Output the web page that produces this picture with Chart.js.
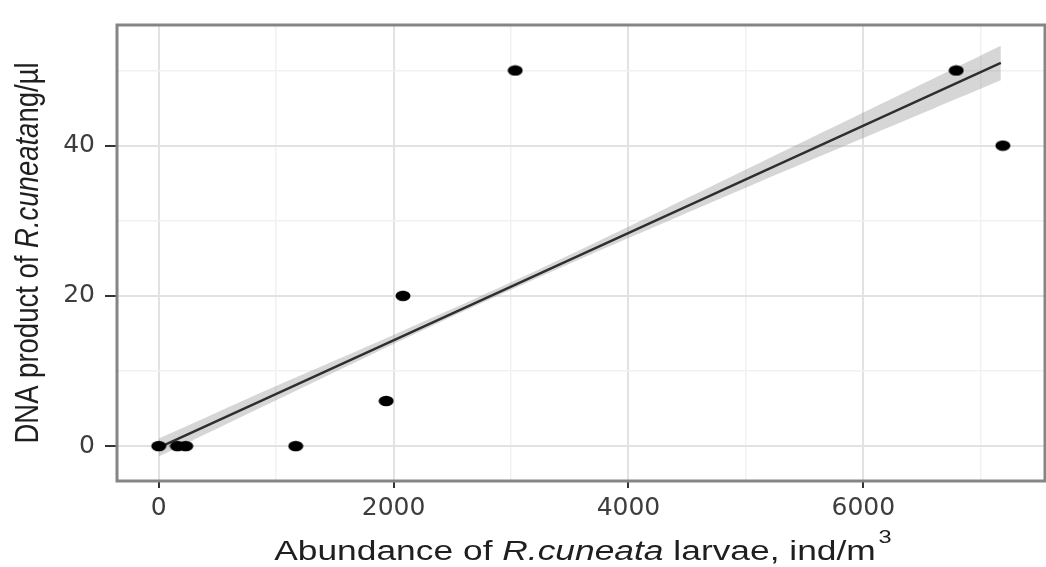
<!DOCTYPE html>
<html>
<head>
<meta charset="utf-8">
<script src="https://cdn.jsdelivr.net/npm/chart.js@4.4.1/dist/chart.umd.min.js"></script>
<style>
  html, body { margin: 0; padding: 0; background: #fff; overflow: hidden; }
  .wrap { position: relative; width: 1052px; height: 567px; }
</style>
</head>
<body>
<div class="wrap"><canvas id="dnaChart"></canvas></div>
<script>
    // observed samples: larvae abundance vs DNA product
    const abundance = [0, 160, 230, 1167, 1937, 2080, 3036, 6791, 7188];
    const dnaProduct = [0, 0, 0, 0, 6, 20, 50, 50, 40];

    // fitted line and its confidence band
    const fitX = [0, 7171];
    const fitY = [-0.2, 51.0];
    const bandX = [0, 1000, 2000, 3000, 4000, 5000, 6000, 7171];
    const bandLow = [-1.4, 6.1, 13.6, 20.8, 27.7, 34.4, 41.0, 48.7];
    const bandHigh = [1.0, 8.0, 14.8, 21.8, 29.2, 36.8, 44.4, 53.3];

    // grid / tick values
    const xGrid = [0, 1000, 2000, 3000, 4000, 5000, 6000, 7000];
    const xLabels = [0, 2000, 4000, 6000];
    const yGrid = [0, 10, 20, 30, 40, 50];
    const yLabels = [0, 20, 40];

    const toXY = (xs, ys) => xs.map((x, i) => ({ x: x, y: ys[i] }));

    // slightly wide dot, like the stretched original
    const dot = document.createElement('canvas');
    dot.width = 16; dot.height = 12;
    const dctx = dot.getContext('2d');
    dctx.fillStyle = '#000';
    dctx.beginPath();
    dctx.ellipse(8, 6, 7.5, 5.3, 0, 0, Math.PI * 2);
    dctx.fill();

    const titleFont = '"Liberation Sans", Arial, sans-serif';

    function richText(ctx, parts, size) {
      let total = 0;
      parts.forEach(p => {
        ctx.font = (p.italic ? 'italic ' : '') + size + 'px ' + titleFont;
        p.w = ctx.measureText(p.text).width;
        total += p.w;
      });
      let x = -total / 2;
      parts.forEach(p => {
        ctx.font = (p.italic ? 'italic ' : '') + size + 'px ' + titleFont;
        ctx.fillText(p.text, x, 0);
        x += p.w;
      });
      return x;
    }

    const axisTitles = {
      id: 'axisTitles',
      afterDraw(chart) {
        const ctx = chart.ctx;
        const ca = chart.chartArea;
        ctx.save();
        ctx.fillStyle = '#1f1f1f';
        ctx.textBaseline = 'alphabetic';
        ctx.textAlign = 'left';

        // x title
        ctx.save();
        ctx.translate((ca.left + ca.right) / 2 - 6, 560);
        ctx.scale(1.31, 1);
        const end = richText(ctx, [
          { text: 'Abundance of ' },
          { text: 'R.cuneata', italic: true },
          { text: ' larvae, ind/m' }
        ], 27);
        ctx.font = '18px ' + titleFont;
        ctx.fillText('3', end + 2, -17);
        ctx.restore();

        // y title
        ctx.save();
        ctx.translate(38, (ca.top + ca.bottom) / 2);
        ctx.rotate(-Math.PI / 2);
        ctx.scale(1, 1.2);
        richText(ctx, [
          { text: 'DNA product of ' },
          { text: 'R.cuneata', italic: true },
          { text: 'ng/\u00b5l' }
        ], 27.5);
        ctx.restore();

        ctx.restore();
      }
    };

    const panelFrame = {
      id: 'panelFrame',
      afterDatasetsDraw(chart) {
        const ctx = chart.ctx;
        const ca = chart.chartArea;
        ctx.save();
        ctx.strokeStyle = '#858585';
        ctx.lineWidth = 3;
        ctx.strokeRect(ca.left, ca.top, ca.right - ca.left, ca.bottom - ca.top);
        ctx.restore();
      }
    };

    const tickFont = { family: '"DejaVu Sans", sans-serif', size: 25 };
    const isMajor = (list, c) => list.includes(c.tick && c.tick.value);

    new Chart(document.getElementById('dnaChart').getContext('2d'), {
      type: 'scatter',
      data: {
        datasets: [
          {
            label: 'Samples',
            data: toXY(abundance, dnaProduct),
            pointStyle: dot,
            pointRadius: 6,
            order: 0
          },
          {
            label: 'Fit',
            data: toXY(fitX, fitY),
            showLine: true,
            borderColor: '#2e2e2e',
            borderWidth: 2.4,
            pointRadius: 0,
            order: 1
          },
          {
            label: 'Band high',
            data: toXY(bandX, bandHigh),
            showLine: true,
            borderWidth: 0,
            borderColor: 'rgba(0,0,0,0)',
            backgroundColor: 'rgba(153,153,153,0.4)',
            fill: '+1',
            pointRadius: 0,
            tension: 0.3,
            order: 2
          },
          {
            label: 'Band low',
            data: toXY(bandX, bandLow),
            showLine: true,
            borderWidth: 0,
            borderColor: 'rgba(0,0,0,0)',
            pointRadius: 0,
            tension: 0.3,
            order: 3
          }
        ]
      },
      options: {
        responsive: true,
        maintainAspectRatio: false,
        animation: false,
        layout: { padding: { top: 12, right: 1, left: 0, bottom: 0 } },
        plugins: {
          legend: { display: false },
          tooltip: { enabled: false }
        },
        scales: {
          x: {
            type: 'linear',
            min: -355,
            max: 7547,
            afterBuildTicks: s => { s.ticks = xGrid.map(v => ({ value: v })); },
            afterFit: s => { s.height = 86; },
            border: { display: false },
            grid: {
              color: c => isMajor(xLabels, c) ? '#e2e2e2' : '#f1f1f1',
              lineWidth: c => isMajor(xLabels, c) ? 2 : 1.5,
              tickColor: c => isMajor(xLabels, c) ? '#333' : 'rgba(0,0,0,0)',
              tickLength: 7,
              tickWidth: 2
            },
            ticks: {
              color: '#3d3d3d',
              font: tickFont,
              padding: 5,
              maxRotation: 0,
              autoSkip: false,
              callback: v => xLabels.includes(v) ? String(v) : ''
            }
          },
          y: {
            type: 'linear',
            min: -4.65,
            max: 56.05,
            afterBuildTicks: s => { s.ticks = yGrid.map(v => ({ value: v })); },
            afterFit: s => { s.width = 117; },
            border: { display: false },
            grid: {
              color: c => isMajor(yLabels, c) ? '#e2e2e2' : '#f1f1f1',
              lineWidth: c => isMajor(yLabels, c) ? 2 : 1.5,
              tickColor: c => isMajor(yLabels, c) ? '#333' : 'rgba(0,0,0,0)',
              tickLength: 12,
              tickWidth: 2
            },
            ticks: {
              color: '#3d3d3d',
              font: tickFont,
              padding: 10,
              autoSkip: false,
              callback: v => yLabels.includes(v) ? String(v) : ''
            }
          }
        }
      },
      plugins: [panelFrame, axisTitles]
    });
</script>
</body>
</html>
